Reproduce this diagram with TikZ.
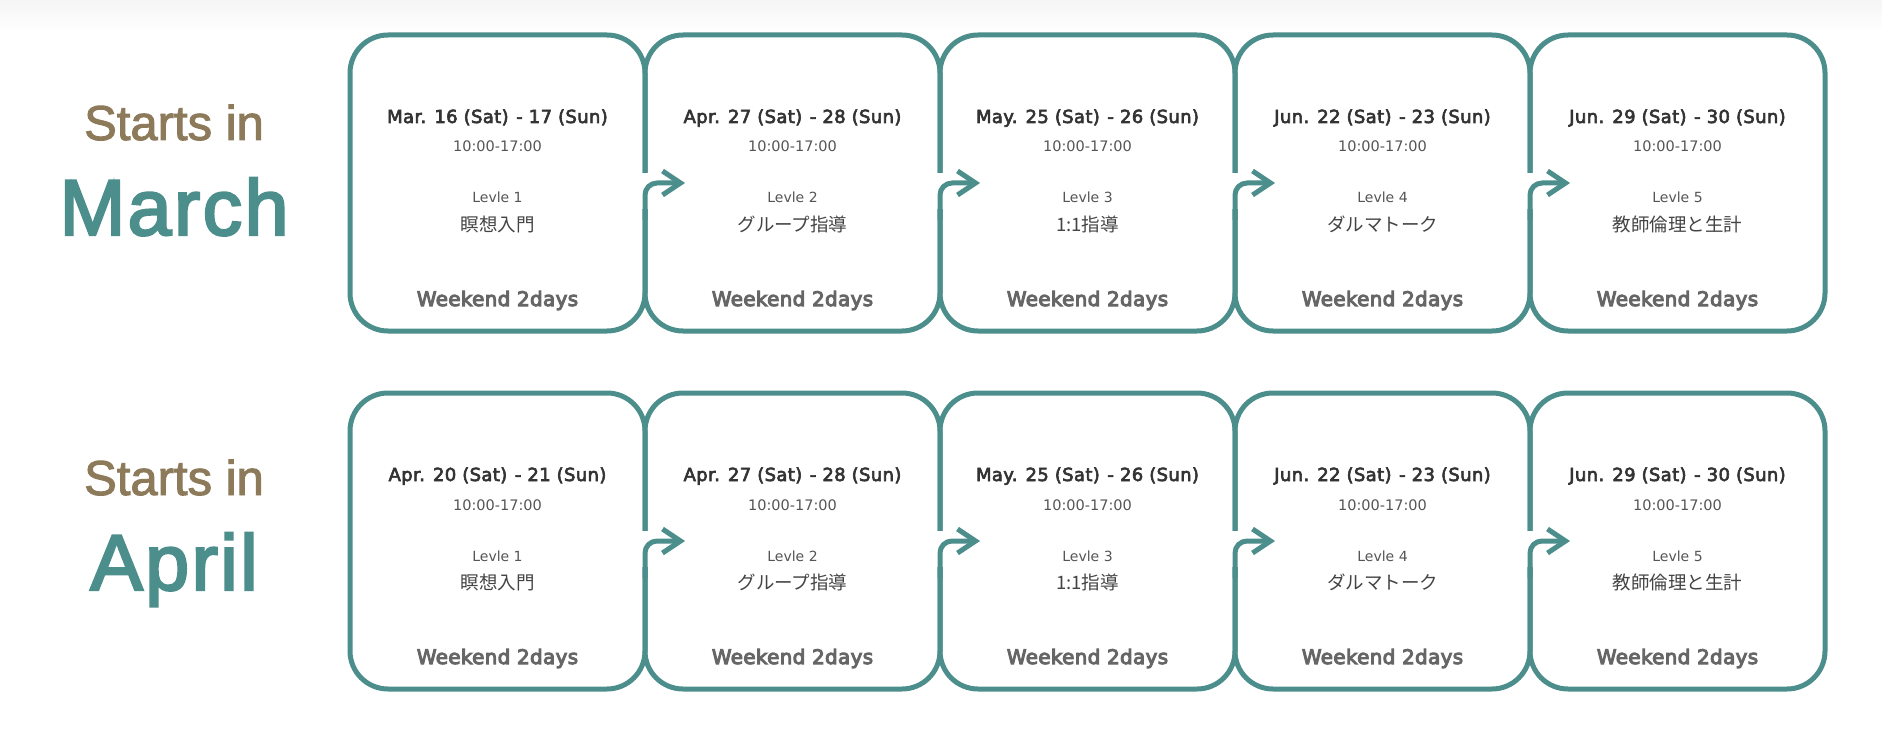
\documentclass[tikz,border=0pt]{standalone}
\usepackage{fontspec}
\setmainfont{DejaVu Sans}
\newfontfamily\semidv{DejaVu Sans}[RawFeature={embolden=3.5}, LetterSpace=2]
\newfontfamily\wkfont{DejaVu Sans}[RawFeature={embolden=5}, LetterSpace=1.5]
\newfontfamily\labfont{Liberation Sans}[RawFeature={embolden=2}]
\newfontfamily\labsemi{Liberation Sans}[RawFeature={embolden=3}, LetterSpace=3]
\newfontfamily\jpfont{Noto Sans CJK JP}
\usetikzlibrary{arrows.meta,calc}
\definecolor{tealc}{HTML}{4B8E8B}
\definecolor{brownc}{HTML}{8C7A5A}
\definecolor{datec}{HTML}{333333}
\definecolor{smallc}{HTML}{555555}
\definecolor{jpc}{HTML}{444444}
\definecolor{wkc}{HTML}{666666}
\tikzset{
  cardbox/.style={draw=tealc, line width=5pt, rounded corners=38pt, minimum width=295pt, minimum height=296pt, inner sep=0pt},
  txt/.style={inner sep=0pt, anchor=base},
  datet/.style={txt, text=datec, font=\semidv\fontsize{18}{20}\selectfont},
  timet/.style={txt, text=smallc, font=\fontsize{14.5}{16}\selectfont},
  levt/.style={txt, text=smallc, font=\fontsize{14}{16}\selectfont},
  jpt/.style={txt, text=jpc, font=\jpfont\fontsize{18.5}{20}\selectfont},
  wkt/.style={txt, text=wkc, font=\wkfont\fontsize{20}{22}\selectfont},
  startst/.style={txt, text=brownc, font=\labfont\fontsize{49}{50}\selectfont},
  montht/.style={txt, text=tealc, font=\labsemi\fontsize{79}{80}\selectfont},
  flowline/.style={draw=tealc, line width=5pt, rounded corners=12pt, -{Straight Barb[length=18pt,width=24pt]}},
  gapfill/.style={fill=white, draw=none}
}
\newcommand\card[6]{%
  \node[cardbox] (#1) at (#2, #3+148) {};
  \node[datet] (#1d) at (#2, #3+88) {#4};
  \node[timet] (#1t) at (#2, #3+117) {10:00-17:00};
  \node[levt] (#1l) at (#2, #3+168) {Levle #5};
  \node[jpt] (#1j) at (#2, #3+196.5) {#6};
  \node[wkt] (#1w) at (#2, #3+271) {Weekend 2days};
}
\newcommand\flow[3]{%
  \fill[gapfill] (#2-3.6, #3+138) rectangle (#2+3.6, #3+174);
  \coordinate (#1s) at (#2, #3+185);
  \coordinate (#1e) at (#2+40, #3+148);
  \draw[flowline] (#1s) |- (#1e);
}
\newcommand\dt[3]{#1 #2\hspace{6pt}(Sat)\hspace{1.5pt} - #3\hspace{6pt}(Sun)}
\begin{document}
\begin{tikzpicture}[x=1pt, y=-1pt]
\useasboundingbox (0,0) rectangle (1882,730);
\shade[top color={rgb,255:red,245;green,245;blue,245}, bottom color=white, draw=none] (0,0) rectangle (1882,32);
% row 1
\node[startst] (s1) at (174,140) {Starts in};
\node[montht] (m1) at (174,235) {March};
\card{b11}{497.5}{35}{\dt{Mar.}{16}{17}}{1}{瞑想入門}
\card{b12}{792.5}{35}{\dt{Apr.}{27}{28}}{2}{グループ指導}
\card{b13}{1087.5}{35}{\dt{May.}{25}{26}}{3}{1:1指導}
\card{b14}{1382.5}{35}{\dt{Jun.}{22}{23}}{4}{ダルマトーク}
\card{b15}{1677.5}{35}{\dt{Jun.}{29}{30}}{5}{教師倫理と生計}
\flow{a12}{645}{35}
\flow{a13}{940}{35}
\flow{a14}{1235}{35}
\flow{a15}{1530}{35}
% row 2
\node[startst] (s2) at (174,495) {Starts in};
\node[montht] (m2) at (174,590) {April};
\card{b21}{497.5}{393}{\dt{Apr.}{20}{21}}{1}{瞑想入門}
\card{b22}{792.5}{393}{\dt{Apr.}{27}{28}}{2}{グループ指導}
\card{b23}{1087.5}{393}{\dt{May.}{25}{26}}{3}{1:1指導}
\card{b24}{1382.5}{393}{\dt{Jun.}{22}{23}}{4}{ダルマトーク}
\card{b25}{1677.5}{393}{\dt{Jun.}{29}{30}}{5}{教師倫理と生計}
\flow{a22}{645}{393}
\flow{a23}{940}{393}
\flow{a24}{1235}{393}
\flow{a25}{1530}{393}
\end{tikzpicture}
\end{document}
